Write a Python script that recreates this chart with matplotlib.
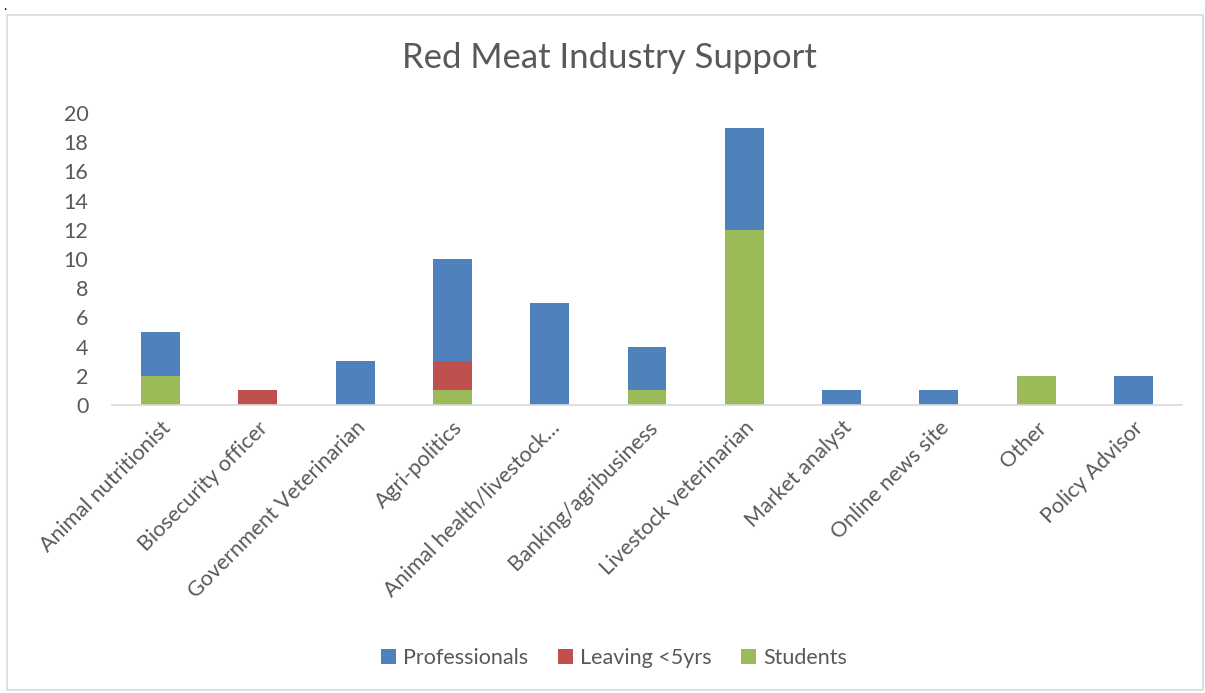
import matplotlib.pyplot as plt
import matplotlib.patches as mpatches
import numpy as np

plt.rcParams["font.family"] = ["Lato", "DejaVu Sans"]

categories = ["Animal nutritionist", "Biosecurity officer", "Government Veterinarian",
              "Agri-politics", "Animal health/livestock\u2026", "Banking/agribusiness",
              "Livestock veterinarian", "Market analyst", "Online news site", "Other",
              "Policy Advisor"]
students = [2, 0, 0, 1, 0, 1, 12, 0, 0, 2, 0]
leaving = [0, 1, 0, 2, 0, 0, 0, 0, 0, 0, 0]
professionals = [3, 0, 3, 7, 7, 3, 7, 1, 1, 0, 2]

text_col = "#595959"
x = np.arange(len(categories))
students = np.array(students)
leaving = np.array(leaving)
professionals = np.array(professionals)

fig = plt.figure(figsize=(12.05, 6.93), dpi=100)
ax = fig.add_axes([112 / 1205, 1 - 405 / 693, 1070 / 1205, 292 / 693])

b_p = ax.bar(x, professionals, 0.4, bottom=students + leaving, color="#4F81BD", label="Professionals")
b_l = ax.bar(x, leaving, 0.4, bottom=students, color="#C0504D", label="Leaving <5yrs")
b_s = ax.bar(x, students, 0.4, color="#9BBB59", label="Students")

ax.set_xlim(-0.5, len(categories) - 0.5)
ax.set_ylim(0, 20)
ax.set_yticks(range(0, 21, 2))
ax.set_xticks(x)
ax.set_xticklabels(categories, rotation=45, ha="right", rotation_mode="anchor")
ax.tick_params(axis="both", length=0, colors=text_col, labelsize=15.5)
ax.tick_params(axis="y", pad=17)
ax.tick_params(axis="x", pad=9)
for s in ["top", "right", "left"]:
    ax.spines[s].set_visible(False)
ax.spines["bottom"].set_color("#d9d9d9")
ax.spines["bottom"].set_linewidth(1.2)

fig.text(609 / 1205, 1 - 58 / 693, "Red Meat Industry Support", ha="center", va="center",
         fontsize=25, color=text_col)

fig.legend(handles=[b_p, b_l, b_s], loc="center", bbox_to_anchor=(614 / 1205, 1 - 658 / 693),
           ncol=3, frameon=False, fontsize=15.5, labelcolor=text_col, handlelength=0.7,
           handleheight=0.7, handletextpad=0.3, columnspacing=1.4)

fig.patches.append(mpatches.Rectangle((7 / 1205, 3 / 693), 1196 / 1205, 675 / 693,
                                      transform=fig.transFigure, fill=False,
                                      edgecolor="#d9d9d9", linewidth=1.2))
fig.text(3 / 1205, 1 - 6 / 693, ".", fontsize=10, color="black", va="center")

fig.savefig("out.png", dpi=100)
